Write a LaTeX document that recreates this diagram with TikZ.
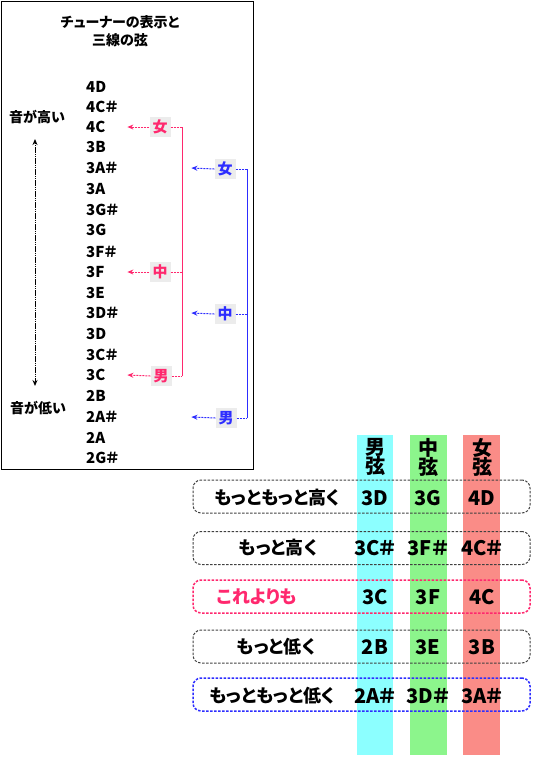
\documentclass[tikz,border=0pt]{standalone}
\usepackage{fontspec}
\setmainfont{Noto Sans CJK JP}[RawFeature=+palt]
\usetikzlibrary{arrows.meta}
\definecolor{pinkc}{RGB}{255,40,110}
\definecolor{bluec}{RGB}{45,45,255}
\definecolor{cyancol}{RGB}{140,255,255}
\definecolor{greencol}{RGB}{140,245,140}
\definecolor{redcol}{RGB}{250,140,135}
\definecolor{labbg}{RGB}{236,236,236}
\tikzset{
  notelab/.style={anchor=west,inner sep=0pt,text width=41pt,align=left,font=\fontsize{15}{15}\selectfont\bfseries},
  sidetxt/.style={inner sep=0pt,font=\fontsize{14}{14}\selectfont\bfseries},
  brlab/.style={fill=labbg,minimum width=21pt,minimum height=20pt,inner sep=0pt,font=\fontsize{15}{15}\selectfont\bfseries},
  brline/.style={line width=1pt,dash pattern=on 2pt off 1pt},
  brarrow/.style={line width=1pt,dash pattern=on 2pt off 1pt,-{Stealth[length=6pt,width=5pt]}},
  rowbox/.style={draw,rounded corners=8pt,minimum width=337pt,minimum height=33pt,line width=1pt,dash pattern=on 2.5pt off 1.5pt},
  rowtxt/.style={inner sep=0pt,font=\fontsize{18}{18}\selectfont\bfseries},
  valtxt/.style={inner sep=0pt,font=\fontsize{20}{20}\selectfont\bfseries},
  headtxt/.style={inner sep=0pt,align=center,font=\fontsize{20}{20}\selectfont\bfseries}
}
\begin{document}
\begin{tikzpicture}[x=1pt,y=-1pt]
\useasboundingbox (0,0) rectangle (550,780);
% frame of left panel
\draw[line width=1pt] (1,1) rectangle (253,469);
\node[sidetxt,align=center] (title) at (120,31) {チューナーの表示と\\[4pt]三線の弦};
% notes
\node[notelab] (n4D)  at (86,87)  {4D};
\node[notelab] (n4Cs) at (86,107) {4C＃};
\node[notelab] (n4C)  at (86,127) {4C};
\node[notelab] (n3B)  at (86,147) {3B};
\node[notelab] (n3As) at (86,168) {3A＃};
\node[notelab] (n3A)  at (86,189) {3A};
\node[notelab] (n3Gs) at (86,210) {3G＃};
\node[notelab] (n3G)  at (86,230) {3G};
\node[notelab] (n3Fs) at (86,252) {3F＃};
\node[notelab] (n3F)  at (86,272) {3F};
\node[notelab] (n3E)  at (86,293) {3E};
\node[notelab] (n3Ds) at (86,313) {3D＃};
\node[notelab] (n3D)  at (86,334) {3D};
\node[notelab] (n3Cs) at (86,355) {3C＃};
\node[notelab] (n3C)  at (86,375) {3C};
\node[notelab] (n2B)  at (86,396) {2B};
\node[notelab] (n2As) at (86,417) {2A＃};
\node[notelab] (n2A)  at (86,438) {2A};
\node[notelab] (n2Gs) at (86,458) {2G＃};
% high/low
\node[sidetxt] (hi) at (37,117) {音が高い};
\node[sidetxt] (lo) at (38,408) {音が低い};
\coordinate (atop) at (35,139);
\coordinate (abot) at (35,386);
\draw[line width=1pt,dash pattern=on 1.5pt off 0.7pt,{Stealth[length=6pt,width=5pt]}-{Stealth[length=6pt,width=5pt]}] (atop) -- (abot);
% pink bracket
\node[brlab,text=pinkc] (pF) at (160,127) {女};
\node[brlab,text=pinkc] (pC) at (160,272) {中};
\node[brlab,text=pinkc] (pM) at (161,376) {男};
\coordinate (pbar) at (182,0);
\draw[pinkc,line width=1pt] (pF.east -| pbar) -- (pM.east -| pbar);
\draw[pinkc,brline] (pF.east) -- (pF.east -| pbar);
\draw[pinkc,brline] (pC.east) -- (pC.east -| pbar);
\draw[pinkc,brline] (pM.east) -- (pM.east -| pbar);
\draw[pinkc,brarrow] (pF.west) -- (n4C.east);
\draw[pinkc,brarrow] (pC.west) -- (n3F.east);
\draw[pinkc,brarrow] (pM.west) -- (n3C.east);
% blue bracket
\node[brlab,text=bluec] (bF) at (225,169) {女};
\node[brlab,text=bluec] (bC) at (225,314) {中};
\node[brlab,text=bluec] (bM) at (226,418) {男};
\coordinate (bbar) at (247,0);
\draw[bluec,line width=1pt] (bF.east -| bbar) -- (bM.east -| bbar);
\draw[bluec,brline] (bF.east) -- (bF.east -| bbar);
\draw[bluec,brline] (bC.east) -- (bC.east -| bbar);
\draw[bluec,brline] (bM.east) -- (bM.east -| bbar);
\draw[bluec,brarrow] (bF.west) -- ([xshift=64pt]n3As.east);
\draw[bluec,brarrow] (bC.west) -- ([xshift=64pt]n3Ds.east);
\draw[bluec,brarrow] (bM.west) -- ([xshift=64pt]n2As.east);
% columns
\fill[cyancol] (357,435) rectangle (393,755);
\fill[greencol] (410,435) rectangle (447,755);
\fill[redcol] (463,435) rectangle (500,755);
\node[headtxt] (hM) at (375,457) {男\\[-1pt]弦};
\node[headtxt] (hC) at (428,457) {中\\[-1pt]弦};
\node[headtxt] (hF) at (482,457) {女\\[-1pt]弦};
% rows
\node[rowbox,draw=black!75] (r1) at (361.5,496.5) {};
\node[rowbox,draw=black!75] (r2) at (361.5,548) {};
\node[rowbox,draw=pinkc,line width=1.5pt] (r3) at (361.5,596.5) {};
\node[rowbox,draw=black!75] (r4) at (361.5,646.5) {};
\node[rowbox,draw=bluec,line width=1.5pt] (r5) at (361.5,694.5) {};
\node[rowtxt] (t1) at (277,498) {もっともっと高く};
\node[rowtxt] (t2) at (278,548) {もっと高く};
\node[rowtxt,text=pinkc] (t3) at (257,597) {これよりも};
\node[rowtxt] (t4) at (276,647) {もっと低く};
\node[rowtxt] (t5) at (272,696) {もっともっと低く};
\node[valtxt] (v13) at (375,498) {3D};
\node[valtxt] (v14) at (428,498) {3G};
\node[valtxt] (v15) at (482,498) {4D};
\node[valtxt] (v23) at (375,548) {3C＃};
\node[valtxt] (v24) at (428,548) {3F＃};
\node[valtxt] (v25) at (482,548) {4C＃};
\node[valtxt] (v33) at (375,597) {3C};
\node[valtxt] (v34) at (428,597) {3F};
\node[valtxt] (v35) at (482,597) {4C};
\node[valtxt] (v43) at (375,647) {2B};
\node[valtxt] (v44) at (428,647) {3E};
\node[valtxt] (v45) at (482,647) {3B};
\node[valtxt] (v53) at (375,696) {2A＃};
\node[valtxt] (v54) at (428,696) {3D＃};
\node[valtxt] (v55) at (482,696) {3A＃};
\end{tikzpicture}
\end{document}
